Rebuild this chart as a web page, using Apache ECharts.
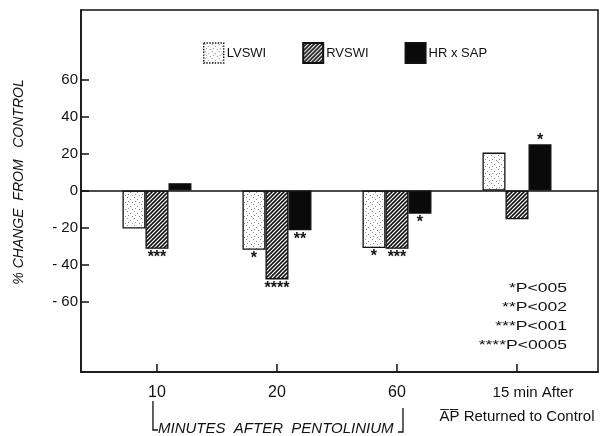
<!DOCTYPE html>
<html><head><meta charset="utf-8">
<script src="https://cdn.jsdelivr.net/npm/echarts@6/dist/echarts.min.js"></script>
<style>html,body{margin:0;padding:0;background:#fff}#c{width:601px;height:436px}</style>
</head><body><div id="c"></div>
<script>
// ---- data ----
const categories = ['10', '20', '60', '15 min After\nA\u0305P\u0305 Returned to Control'];
const seriesNames = ['LVSWI', 'RVSWI', 'HR x SAP'];
const lvswi = [-20.5, -32, -31, 20.5];
const rvswi = [-31.5, -48, -31.5, -15.5];
const hrSap = [4, -21.5, -12.5, 25];
const lvSig = ['', '*', '*', ''];
const rvSig = ['***', '****', '***', ''];
const hrSig = ['', '**', '*', '*'];
const yTicks = [-60, -40, -20, 0, 20, 40, 60];
const pNotes = ['*P<005', '**P<002', '***P<001', '****P<0005'];
const xTitle = 'MINUTES  AFTER  PENTOLINIUM';
const yTitle = '% CHANGE  FROM   CONTROL';

// ---- patterns ----
function stipple() {
  const c = document.createElement('canvas'); c.width = 7; c.height = 7;
  const g = c.getContext('2d'); g.fillStyle = '#fff'; g.fillRect(0, 0, 7, 7);
  g.fillStyle = '#8a8a8a';
  [[1, 1], [4, 3], [2, 5], [6, 6]].forEach(p => g.fillRect(p[0], p[1], 1, 1));
  return c;
}
function hatch() {
  const s = 4, c = document.createElement('canvas'); c.width = s; c.height = s;
  const g = c.getContext('2d'); g.fillStyle = '#fff'; g.fillRect(0, 0, s, s);
  g.strokeStyle = '#111'; g.lineWidth = 1.6;
  g.beginPath();
  g.moveTo(-1, 1); g.lineTo(1, -1);
  g.moveTo(0, s); g.lineTo(s, 0);
  g.moveTo(s - 1, s + 1); g.lineTo(s + 1, s - 1);
  g.stroke();
  return c;
}
const fills = [
  { image: stipple(), repeat: 'repeat' },
  { image: hatch(), repeat: 'repeat' },
  '#0a0a0a'
];

const FONT = 'Liberation Sans';
const valuesAll = [lvswi, rvswi, hrSap];
const sigAll = [lvSig, rvSig, hrSig];
const xPos = categories.map((c, i) => i + 1);

const series = seriesNames.map((name, s) => ({
  name, type: 'bar', barWidth: 23, barGap: '0%',
  itemStyle: { color: fills[s], borderColor: '#111', borderWidth: 1.3 },
  data: valuesAll[s].map((v, i) => ({
    value: [xPos[i], v],
    label: {
      show: sigAll[s][i] !== '',
      position: v < 0 ? 'bottom' : 'top',
      distance: v < 0 ? 1 : -4,
      formatter: sigAll[s][i]
    }
  })),
  label: { fontFamily: FONT, fontSize: 16, fontWeight: 'bold', color: '#111' },
  markLine: s === 0 ? {
    silent: true, symbol: 'none', label: { show: false },
    lineStyle: { color: '#111', width: 1.5, type: 'solid' },
    data: [{ yAxis: 0 }]
  } : undefined
}));

const chart = echarts.init(document.getElementById('c'), null, { renderer: 'canvas' });
chart.setOption({
  animation: false,
  backgroundColor: '#fff',
  grid: { left: 81, right: 3, top: 10, bottom: 64, show: true, borderColor: '#111', borderWidth: 1.5, backgroundColor: 'transparent' },
  legend: {
    left: 203, top: 42, padding: 0, itemWidth: 20, itemHeight: 20, itemGap: 36,
    icon: 'rect',
    textStyle: { fontFamily: FONT, fontSize: 13, color: '#111', padding: [0, 0, 0, -2] },
    data: [
      { name: seriesNames[0], itemStyle: { borderType: 'dotted', borderWidth: 1.4 } },
      { name: seriesNames[1] },
      { name: seriesNames[2] }
    ]
  },
  xAxis: {
    type: 'value', min: 0.367, max: 4.675,
    axisLine: { onZero: false, lineStyle: { color: '#111', width: 1.5 } },
    axisTick: { inside: true, length: 8, customValues: xPos, lineStyle: { color: '#111', width: 1.5 } },
    splitLine: { show: false },
    axisLabel: {
      customValues: xPos, margin: 9, color: '#111', fontFamily: FONT, fontSize: 16, lineHeight: 24,
      formatter: v => {
        const t = categories[Math.round(v) - 1] || '';
        const parts = t.split('\n');
        if (parts.length > 1) return '{a|' + parts[0] + '}\n{b|' + parts[1] + '}';
        return '{n|' + t + '}';
      },
      rich: {
        n: { fontFamily: FONT, fontSize: 16, color: '#111', lineHeight: 24 },
        a: { fontFamily: FONT, fontSize: 15, color: '#111', lineHeight: 24, padding: [0, 0, 0, 32] },
        b: { fontFamily: FONT, fontSize: 15, color: '#111', lineHeight: 24 }
      }
    }
  },
  yAxis: {
    type: 'value', min: -98, max: 97.5,
    name: yTitle, nameLocation: 'middle', nameRotate: 90, nameGap: 55,
    nameTextStyle: { fontFamily: FONT, fontSize: 14, fontStyle: 'italic', color: '#111', padding: [0, 0, 0, 18] },
    axisLine: { show: true, lineStyle: { color: '#111', width: 1.5 } },
    axisTick: { show: true, inside: true, length: 8, customValues: yTicks, lineStyle: { color: '#111', width: 1.5 } },
    splitLine: { show: false },
    axisLabel: {
      customValues: yTicks, margin: 3, color: '#111', fontFamily: FONT, fontSize: 15,
      formatter: v => v < 0 ? '- ' + Math.abs(v) : String(v)
    }
  },
  series
});

// annotations positioned from the axis scale
const xa = chart.convertToPixel({ xAxisIndex: 0 }, xPos[0]);
const xb = chart.convertToPixel({ xAxisIndex: 0 }, xPos[2]);
chart.setOption({
  graphic: [
    { type: 'polyline', silent: true, shape: { points: [[xa - 4, 401], [xa - 4, 430], [xa + 1, 430]] }, style: { stroke: '#111', lineWidth: 1.3, fill: null } },
    { type: 'polyline', silent: true, shape: { points: [[xb + 6, 408], [xb + 6, 432], [xb + 1, 432]] }, style: { stroke: '#111', lineWidth: 1.3, fill: null } },
    { type: 'text', silent: true, x: xa + 1, y: 429, style: { text: xTitle, font: 'italic 15px "' + FONT + '"', fill: '#111', align: 'left', verticalAlign: 'middle' } },
    { type: 'text', silent: true, x: 567, y: 279, scaleX: 1.35, originX: 0, originY: 0, style: { text: pNotes.join('\n'), font: '13px "' + FONT + '"', lineHeight: 19, fill: '#111', align: 'right', verticalAlign: 'top' } }
  ]
});
</script>
</body></html>
